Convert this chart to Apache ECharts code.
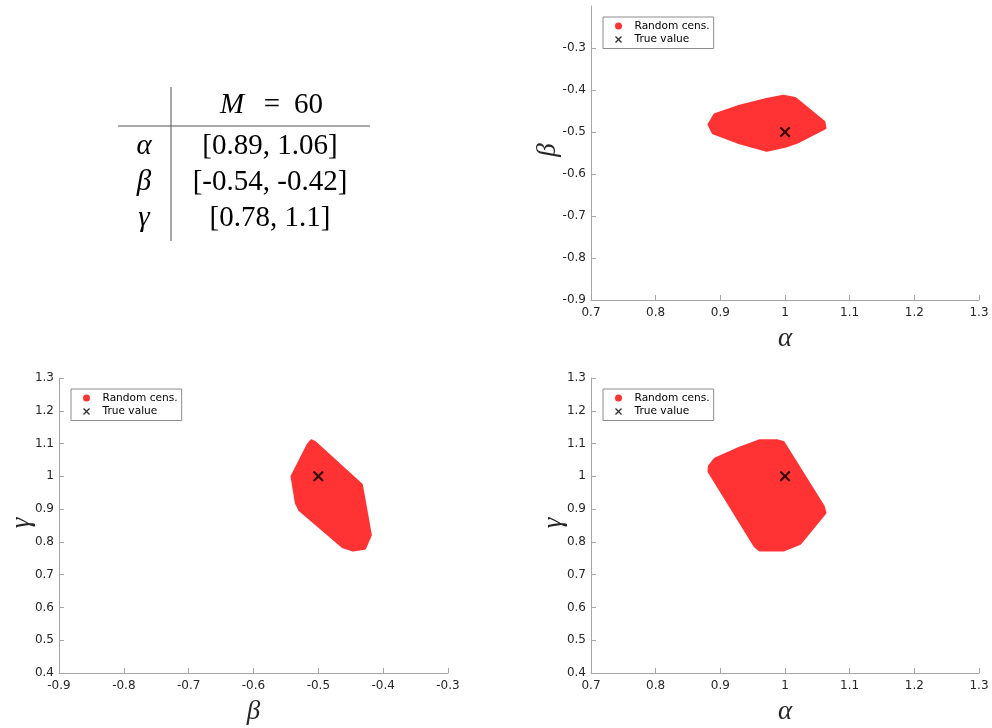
<!DOCTYPE html>
<html><head><meta charset="utf-8">
<script src="https://cdn.jsdelivr.net/npm/echarts@6/dist/echarts.min.js"></script>
<style>html,body{margin:0;padding:0;background:#fff}#c{width:992px;height:728px}</style>
</head><body><div id="c"></div>
<script>
// ---- Table content ----
const tableHeaderVar = 'M';
const tableHeaderOp = '=';
const tableHeaderValue = '60';
const tableParams = ['α', 'β', 'γ'];
const tableIntervals = ['[0.89, 1.06]', '[-0.54, -0.42]', '[0.78, 1.1]'];

// ---- Axis titles ----
const xTitles = ['α', 'β', 'α'];
const yTitles = ['β', 'γ', 'γ'];

// ---- Series names ----
const regionName = 'Random cens.';
const trueName = 'True value';

// ---- True parameter values ----
const trueAlpha = 1;
const trueBeta = -0.5;
const trueGamma = 1;

// ---- Outline of the censored region, (alpha, beta) plane ----
const regionAlphaBeta = [
  [0.8825, -0.4823], [0.8917, -0.4585], [0.930, -0.4387], [0.9717, -0.4227],
  [0.9974, -0.4148], [1.0155, -0.4203], [1.0603, -0.4768], [1.0618, -0.4902],
  [1.018, -0.5246], [1.0, -0.534], [0.9717, -0.5437], [0.930, -0.526],
  [0.889, -0.502]
];
// ---- (beta, gamma) plane ----
const regionBetaGamma = [
  [-0.5107, 1.1085], [-0.5056, 1.1034], [-0.4336, 0.974], [-0.4197, 0.821],
  [-0.4285, 0.7805], [-0.4465, 0.775], [-0.4619, 0.785], [-0.5287, 0.8975],
  [-0.5338, 0.918], [-0.5406, 0.9994], [-0.5159, 1.096]
];
// ---- (alpha, gamma) plane ----
const regionAlphaGamma = [
  [0.883, 1.03], [0.8825, 1.0147], [0.9536, 0.7875], [0.9613, 0.775],
  [0.9974, 0.775], [1.0232, 0.7957], [1.0618, 0.889], [1.0592, 0.9076],
  [0.9974, 1.1034], [0.9871, 1.1085], [0.9613, 1.1085], [0.930, 1.086],
  [0.8917, 1.0526]
];

// ---- Axis ranges / tick settings ----
const alphaRange = [0.7, 1.3];
const betaRangeX = [-0.9, -0.3];
const betaRangeY = [-0.9, -0.2];
const gammaRange = [0.4, 1.3];
const tickStep = 0.1;

const RED = '#ff3333';
const AXIS_GRAY = '#a6a6a6';
const LABEL = '#262626';
const XPATH = 'path://M0,1.4L1.4,0L5,3.6L8.6,0L10,1.4L6.4,5L10,8.6L8.6,10L5,6.4L1.4,10L0,8.6L3.6,5Z';

const chart = echarts.init(document.getElementById('c'), null, {renderer: 'canvas'});

const grids = [
  {left: 591, top: 6, width: 388, height: 294},
  {left: 59, top: 378, width: 389, height: 295},
  {left: 591, top: 378, width: 388, height: 295}
];

const nameStyle = {fontFamily: 'Liberation Serif', fontStyle: 'italic', fontSize: 27, color: LABEL};

function fmt(v) { return String(+v.toFixed(1)); }

function xAxisOf(gi, range, name) {
  return {
    type: 'value', gridIndex: gi, min: range[0], max: range[1], interval: tickStep,
    axisLine: {show: true, onZero: false, lineStyle: {color: AXIS_GRAY, width: 1}},
    axisTick: {show: true, inside: true, length: 5, lineStyle: {color: AXIS_GRAY}},
    splitLine: {show: false},
    axisLabel: {color: LABEL, fontFamily: 'DejaVu Sans', fontSize: 12, margin: 7, formatter: fmt,
      showMinLabel: true, showMaxLabel: true, hideOverlap: false},
    name: name, nameLocation: 'middle', nameGap: 25, nameTextStyle: nameStyle
  };
}
function yAxisOf(gi, range, hideMax) {
  return {
    type: 'value', gridIndex: gi, min: range[0], max: range[1], interval: tickStep,
    axisLine: {show: true, onZero: false, lineStyle: {color: AXIS_GRAY, width: 1}},
    axisTick: {show: true, inside: true, length: 5, lineStyle: {color: AXIS_GRAY}},
    splitLine: {show: false},
    axisLabel: {color: LABEL, fontFamily: 'DejaVu Sans', fontSize: 12, margin: 5, formatter: fmt,
      showMinLabel: true, showMaxLabel: !hideMax, hideOverlap: false}
  };
}

function regionSeries(poly, gi) {
  return {
    type: 'custom', name: regionName, xAxisIndex: gi, yAxisIndex: gi,
    data: poly, encode: {x: 0, y: 1}, silent: true, z: 2, clip: true,
    itemStyle: {color: RED},
    renderItem: function (params, api) {
      if (params.dataIndex !== 0) return null;
      const pts = poly.map(function (p) { return api.coord(p); });
      return {type: 'polygon', shape: {points: pts, smooth: 0},
        style: {fill: RED, stroke: RED, lineWidth: 3, lineJoin: 'round'}};
    }
  };
}
function trueSeries(pt, gi) {
  return {
    type: 'scatter', name: trueName, xAxisIndex: gi, yAxisIndex: gi,
    data: [pt], symbol: XPATH, symbolSize: 11, silent: true, z: 5,
    itemStyle: {color: '#000'}
  };
}
function legendAt(left, top) {
  return {
    left: left, top: top, orient: 'vertical', padding: [3, 4, 3, 12], itemGap: 1.5,
    itemWidth: 22, itemHeight: 7, borderColor: '#8c8c8c', borderWidth: 1, borderRadius: 0,
    backgroundColor: '#fff', selectedMode: false,
    textStyle: {fontFamily: 'DejaVu Sans', fontSize: 10.6, color: '#000', lineHeight: 12},
    data: [{name: regionName, icon: 'circle'}, {name: trueName, icon: XPATH}]
  };
}

// ---- Table graphics ----
const tableCenterX = 270, greekX = 144;
const rowY = [146.5, 182.5, 218.5];
const tableFont = '29px "Liberation Serif"';
const graphics = [
  {type: 'line', shape: {x1: 171, y1: 87, x2: 171, y2: 241}, style: {stroke: '#555', lineWidth: 1}},
  {type: 'line', shape: {x1: 118, y1: 126, x2: 370, y2: 126}, style: {stroke: '#555', lineWidth: 1}},
  {type: 'text', x: 232, y: 105, style: {text: tableHeaderVar, align: 'center', verticalAlign: 'middle',
    font: 'italic 29px "Liberation Serif"', fill: '#000'}},
  {type: 'text', x: 272, y: 105, style: {text: tableHeaderOp, align: 'center', verticalAlign: 'middle',
    font: '29px "Liberation Serif"', fill: '#000'}},
  {type: 'text', x: 308.5, y: 105, style: {text: tableHeaderValue, align: 'center', verticalAlign: 'middle',
    font: tableFont, fill: '#000'}}
];
tableParams.forEach(function (p, i) {
  graphics.push({type: 'text', x: greekX, y: rowY[i], style: {
    text: p, align: 'center', verticalAlign: 'middle', font: 'italic 29px "Liberation Serif"', fill: '#000'}});
  graphics.push({type: 'text', x: tableCenterX, y: rowY[i], style: {
    text: tableIntervals[i], align: 'center', verticalAlign: 'middle', font: tableFont, fill: '#000'}});
});
// y-axis titles (rotated, bottom-to-top)
const yTitlePos = [[548, 150], [22, 523], [554, 523]];
yTitles.forEach(function (t, i) {
  graphics.push({type: 'text', x: yTitlePos[i][0], y: yTitlePos[i][1], rotation: Math.PI / 2, style: {
    text: t, align: 'center', verticalAlign: 'middle', font: 'italic 27px "Liberation Serif"', fill: LABEL}});
});

chart.setOption({
  animation: false,
  backgroundColor: '#fff',
  grid: grids,
  xAxis: [xAxisOf(0, alphaRange, xTitles[0]), xAxisOf(1, betaRangeX, xTitles[1]), xAxisOf(2, alphaRange, xTitles[2])],
  yAxis: [yAxisOf(0, betaRangeY, true), yAxisOf(1, gammaRange, false), yAxisOf(2, gammaRange, false)],
  legend: [legendAt(603, 17), legendAt(71, 389), legendAt(603, 389)],
  series: [
    regionSeries(regionAlphaBeta, 0), trueSeries([trueAlpha, trueBeta], 0),
    regionSeries(regionBetaGamma, 1), trueSeries([trueBeta, trueGamma], 1),
    regionSeries(regionAlphaGamma, 2), trueSeries([trueAlpha, trueGamma], 2)
  ],
  graphic: graphics
});
</script></body></html>
